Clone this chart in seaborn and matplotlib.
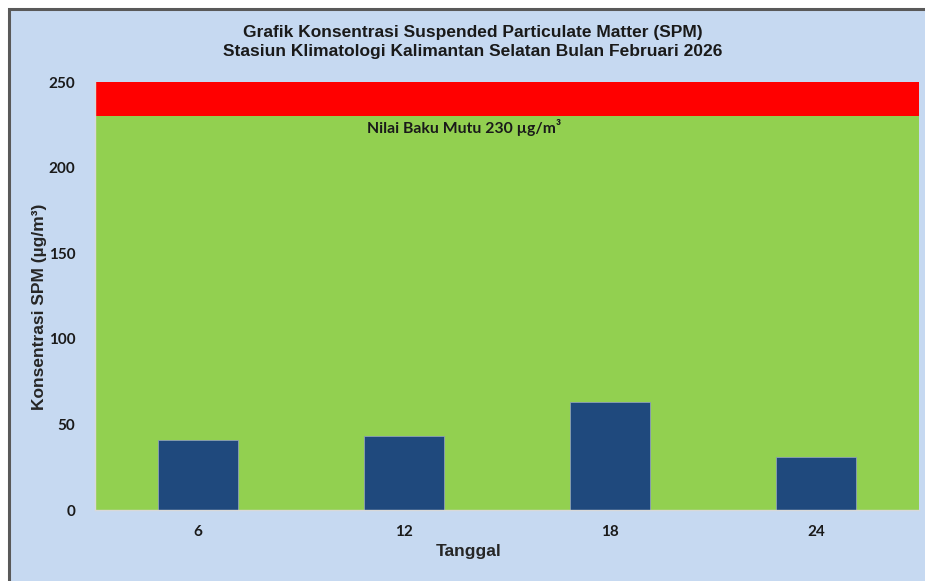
import matplotlib
matplotlib.use("Agg")
import matplotlib.pyplot as plt
import seaborn as sns
import pandas as pd
from matplotlib.patches import Rectangle

# SPM concentration per sampling date
tanggal = ["6", "12", "18", "24"]
spm = [41, 43, 63, 31]
baku_mutu = 230
y_max = 250
y_ticks = [0, 50, 100, 150, 200, 250]

df = pd.DataFrame({"Tanggal": tanggal, "SPM": spm})

sns.set_theme(style="white")
plt.rcParams["font.family"] = ["Liberation Sans", "DejaVu Sans"]

fig = plt.figure(figsize=(9.25, 5.81), dpi=100, facecolor="white")
# framed light-blue chart area
fig.patches.append(Rectangle((9 / 925, -0.02), 1.1, 1 - 8.5 / 581 + 0.02,
                             transform=fig.transFigure, facecolor="#C6D9F1",
                             edgecolor="#595959", linewidth=2.2, zorder=-5))

ax = fig.add_axes([95 / 925, 1 - 510 / 581, 824 / 925, 428 / 581])
ax.set_facecolor("none")
ax.set_zorder(2)

# quality standard zones
ax.axhspan(0, baku_mutu, color="#92D050", zorder=0, lw=0)
ax.axhspan(baku_mutu, y_max, color="#FF0000", zorder=0, lw=0)

sns.barplot(data=df, x="Tanggal", y="SPM", ax=ax, color="#1F497D",
            width=0.39, edgecolor="#8DA0B8", linewidth=0.6, saturation=1, zorder=2)

ax.set_xlim(-0.5, len(tanggal) - 0.5)
ax.set_ylim(0, y_max)
ax.set_yticks(y_ticks)
ax.tick_params(axis="both", length=0, pad=14, labelsize=11)
for lab in ax.get_xticklabels() + ax.get_yticklabels():
    lab.set_fontfamily(["Lato", "DejaVu Sans"])
    lab.set_fontweight("bold")
    lab.set_color("#1a1a1a")
ax.tick_params(axis="x", pad=11)

for s in ["top", "right"]:
    ax.spines[s].set_visible(False)
for s in ["left", "bottom"]:
    ax.spines[s].set_color("#D9D9D9")
    ax.spines[s].set_linewidth(1)

ax.set_xlabel("Tanggal", fontsize=12.5, fontweight="bold", va="center")
ax.set_ylabel("Konsentrasi SPM (µg/m³)", fontsize=12.5, fontweight="bold", va="center")
ax.xaxis.set_label_coords(0.453, -0.098)
ax.yaxis.set_label_coords(-0.067, 0.474)

ax.text(1.29, baku_mutu - 1.5, "Nilai Baku Mutu 230 µg/m³", ha="center", va="top",
        fontsize=11.3, fontweight="bold", color="#1a1a1a",
        family=["Lato", "DejaVu Sans"], zorder=3)

fig.text(473 / 925, 1 - 42 / 581,
         "Grafik Konsentrasi Suspended Particulate Matter (SPM)\n"
         "Stasiun Klimatologi Kalimantan Selatan Bulan Februari 2026",
         ha="center", va="center", fontsize=12.5, fontweight="bold",
         family=["Liberation Sans Narrow", "Liberation Sans", "DejaVu Sans"],
         color="#1a1a1a", linespacing=1.3)

fig.savefig("out.png", dpi=100, facecolor=fig.get_facecolor())
